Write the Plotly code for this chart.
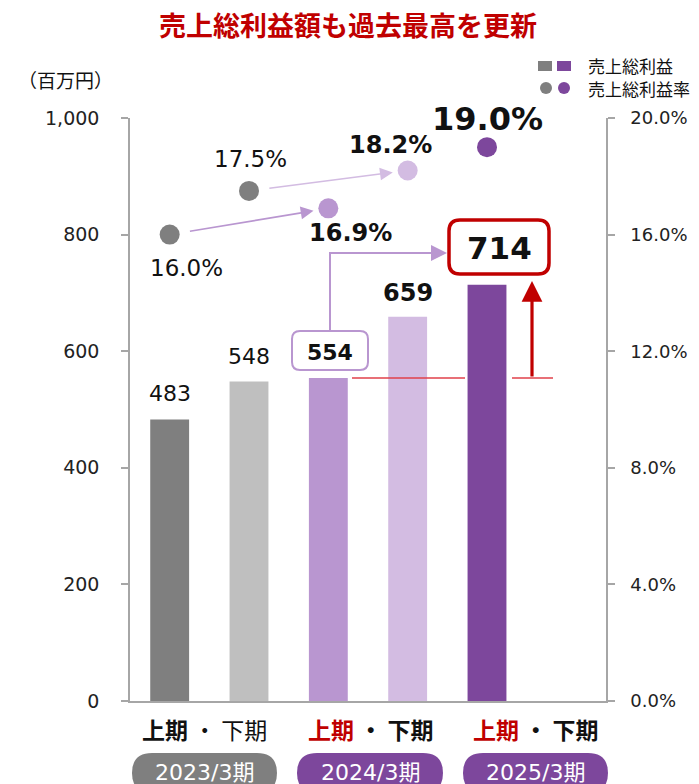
import plotly.graph_objects as go

# ---------------- data ----------------
periods = ["2023/3期 上期", "2023/3期 下期", "2024/3期 上期", "2024/3期 下期", "2025/3期 上期", "2025/3期 下期"]
gross_profit = [483, 548, 554, 659, 714]          # 売上総利益 (百万円)
gross_margin = [0.160, 0.175, 0.169, 0.182, 0.190]  # 売上総利益率
bar_colors = ["#7F7F7F", "#BFBFBF", "#B996D0", "#D3BCE2", "#7D479C"]
marker_colors = ["#7F7F7F", "#7F7F7F", "#B996D0", "#D3BCE2", "#7D479C"]
fiscal_years = ["2023/3期", "2024/3期", "2025/3期"]
left_ticks = [0, 200, 400, 600, 800, 1000]
left_tick_text = ["0", "200", "400", "600", "800", "1,000"]

# ---------------- layout constants ----------------
WIDTH, HEIGHT = 699, 784
L, R, T, B = 130, 606, 118, 701
PW, PH = R - L, B - T
NCAT = len(periods)
YMAX = 1000
NUMFONT = "Verdana, DejaVu Sans, Noto Sans CJK JP"
JPFONT = "Noto Sans CJK JP, DejaVu Sans"
RED = "#C00000"

xpos = list(range(len(gross_profit)))


def xd(px):
    return (px - L) / (PW / NCAT) - 0.5


def yd(py):
    return (B - py) / PH * YMAX


def xp(px):
    return (px - L) / PW


def yp(py):
    return (B - py) / PH


def rrect(x0, y0, x1, y1, r, cx, cy):
    pts = [
        ("M", [(x0 + r, y0)]), ("L", [(x1 - r, y0)]), ("Q", [(x1, y0), (x1, y0 + r)]),
        ("L", [(x1, y1 - r)]), ("Q", [(x1, y1), (x1 - r, y1)]), ("L", [(x0 + r, y1)]),
        ("Q", [(x0, y1), (x0, y1 - r)]), ("L", [(x0, y0 + r)]), ("Q", [(x0, y0), (x0 + r, y0)]),
    ]
    s = ""
    for cmd, ps in pts:
        s += cmd + " " + " ".join(f"{cx(a):.5f},{cy(b):.5f}" for a, b in ps) + " "
    return s + "Z"


def paper_text(px, py, text, size, color="#111", family=JPFONT, xanchor="center"):
    return dict(x=xp(px), y=yp(py), xref="paper", yref="paper", text=text, showarrow=False,
                xanchor=xanchor, yanchor="middle", font=dict(family=family, size=size, color=color))


fig = go.Figure()

fig.add_trace(go.Bar(
    x=xpos, y=gross_profit, marker=dict(color=bar_colors, line=dict(width=0)),
    width=0.49, yaxis="y", hoverinfo="skip", showlegend=False,
))
fig.add_trace(go.Scatter(
    x=xpos, y=gross_margin, mode="markers", yaxis="y2",
    marker=dict(size=20, color=marker_colors, line=dict(width=0)),
    hoverinfo="skip", showlegend=False,
))

shapes = []
annotations = []

# value labels for bars
bar_label_style = [
    dict(size=22, bold=False, dy=11), dict(size=22, bold=False, dy=11), None,
    dict(size=24, bold=True, dy=8), None,
]
for i, v in enumerate(gross_profit):
    st = bar_label_style[i]
    if st is None:
        continue
    txt = f"<b>{v}</b>" if st["bold"] else str(v)
    annotations.append(dict(x=xpos[i], y=v, xref="x", yref="y", text=txt, showarrow=False,
                            xanchor="center", yanchor="bottom", yshift=st["dy"],
                            font=dict(family=NUMFONT, size=st["size"], color="#111")))

# 554 box
shapes.append(dict(type="path", xref="x", yref="y", layer="above",
                   path=rrect(292, 331, 368, 370, 8, xd, yd),
                   line=dict(color="#B996D0", width=2), fillcolor="white"))
annotations.append(dict(x=xpos[2], y=gross_profit[2], xref="x", yref="y", text=f"<b>{gross_profit[2]}</b>",
                        showarrow=False, xanchor="center", yanchor="middle", yshift=26, xshift=2,
                        font=dict(family=NUMFONT, size=22, color="#111")))
# connector 554 -> 714
shapes.append(dict(type="path", xref="x", yref="y", layer="above",
                   path=f"M {xd(330)},{yd(331)} L {xd(330)},{yd(253)} L {xd(430)},{yd(253)}",
                   line=dict(color="#B996D0", width=2)))
annotations.append(dict(x=xd(447), y=yd(253), ax=xd(420), ay=yd(253), xref="x", yref="y", axref="x", ayref="y",
                        text="", showarrow=True, arrowhead=2, arrowsize=1.6, arrowwidth=2, arrowcolor="#B996D0"))

# 714 red box
shapes.append(dict(type="path", xref="x", yref="y", layer="above",
                   path=rrect(449, 220, 549, 274, 11, xd, yd),
                   line=dict(color=RED, width=3.5), fillcolor="white"))
annotations.append(dict(x=xd(499), y=yd(248), xref="x", yref="y", text=f"<b>{gross_profit[4]}</b>",
                        showarrow=False, xanchor="center", yanchor="middle",
                        font=dict(family=NUMFONT, size=31, color="#111")))

# red reference line at 上期 2024 level
ref = gross_profit[2]
shapes.append(dict(type="line", xref="x", yref="y", x0=xd(352), x1=xd(465), y0=ref, y1=ref,
                   layer="above", line=dict(color="#E0404A", width=1.5)))
shapes.append(dict(type="line", xref="x", yref="y", x0=xd(512), x1=xd(553), y0=ref, y1=ref,
                   layer="above", line=dict(color="#E0404A", width=1.5)))
annotations.append(dict(x=xd(532), y=yd(281), ax=xd(532), ay=ref, xref="x", yref="y", axref="x", ayref="y",
                        text="", showarrow=True, arrowhead=2, arrowsize=1.3, arrowwidth=3.2, arrowcolor=RED))

# margin arrows
annotations.append(dict(x=xpos[2], y=gross_margin[2], ax=xpos[0], ay=gross_margin[0], xref="x", yref="y2",
                        axref="x", ayref="y2", text="", showarrow=True, arrowhead=2, arrowsize=1.6, arrowwidth=1.6,
                        arrowcolor="#B996D0", standoff=15, startstandoff=19))
annotations.append(dict(x=xpos[3], y=gross_margin[3], ax=xpos[1], ay=gross_margin[1], xref="x", yref="y2",
                        axref="x", ayref="y2", text="", showarrow=True, arrowhead=2, arrowsize=1.6, arrowwidth=1.6,
                        arrowcolor="#D3BCE2", standoff=15, startstandoff=19))

# margin labels
m_style = [
    dict(dx=17, dy=-33, size=23, bold=False),
    dict(dx=1, dy=32, size=23, bold=False),
    dict(dx=22, dy=-25, size=24, bold=True),
    dict(dx=-17, dy=25, size=24, bold=True),
    dict(dx=0, dy=28, size=32, bold=True),
]
for i, m in enumerate(gross_margin):
    st = m_style[i]
    t = f"{m*100:.1f}%"
    if st["bold"]:
        t = f"<b>{t}</b>"
    annotations.append(dict(x=xpos[i], y=m, xref="x", yref="y2", text=t, showarrow=False,
                            xanchor="center", yanchor="middle", xshift=st["dx"], yshift=st["dy"],
                            font=dict(family=NUMFONT, size=st["size"], color="#111")))

# title
annotations.append(paper_text(348, 24, "<b>売上総利益額も過去最高を更新</b>", 27, color=RED))
# unit
annotations.append(paper_text(65, 80, "（百万円）", 19))

# legend
shapes.append(dict(type="rect", xref="paper", yref="paper", x0=xp(538), x1=xp(552), y0=yp(61), y1=yp(71),
                   fillcolor=bar_colors[0], line=dict(width=0)))
shapes.append(dict(type="rect", xref="paper", yref="paper", x0=xp(557), x1=xp(571), y0=yp(61), y1=yp(71),
                   fillcolor=bar_colors[4], line=dict(width=0)))
shapes.append(dict(type="circle", xref="paper", yref="paper", x0=xp(540), x1=xp(552), y0=yp(82), y1=yp(94),
                   fillcolor=bar_colors[0], line=dict(width=0)))
shapes.append(dict(type="circle", xref="paper", yref="paper", x0=xp(558), x1=xp(570), y0=yp(82), y1=yp(94),
                   fillcolor=bar_colors[4], line=dict(width=0)))
annotations.append(paper_text(586, 65, "売上総利益", 17, xanchor="left"))
annotations.append(paper_text(586, 88, "売上総利益率", 17, xanchor="left"))

# half labels
half_texts = [
    "<b>上期</b> ・ 下期",
    f"<b><span style='color:{RED}'>上期</span> ・ 下期</b>",
    f"<b><span style='color:{RED}'>上期</span> ・ 下期</b>",
]
half_cx = [204, 370, 535]
for cx, t in zip(half_cx, half_texts):
    annotations.append(paper_text(cx, 729, t, 23))

# fiscal-year pills
pill_x = [(132, 277), (297, 443), (463, 608)]
pill_colors = ["#7F7F7F", "#7D479C", "#7D479C"]
for (x0, x1), c, fy in zip(pill_x, pill_colors, fiscal_years):
    shapes.append(dict(type="path", xref="paper", yref="paper",
                       path=rrect(x0, 753, x1, 793, 20, xp, yp), fillcolor=c, line=dict(width=0)))
    annotations.append(paper_text((x0 + x1) / 2, 772, fy, 22, color="white", family=NUMFONT))

fig.update_layout(
    width=WIDTH, height=HEIGHT,
    margin=dict(l=L, r=WIDTH - R, t=T, b=HEIGHT - B, pad=0, autoexpand=False),
    plot_bgcolor="white", paper_bgcolor="white",
    showlegend=False,
    shapes=shapes, annotations=annotations,
    xaxis=dict(range=[-0.5, NCAT - 0.5], showticklabels=False, ticks="", showgrid=False, zeroline=False,
               showline=True, linecolor="#A6A6A6", linewidth=1.5, fixedrange=True, automargin=False),
    yaxis=dict(range=[0, YMAX], tickvals=left_ticks, ticktext=left_tick_text, showgrid=False, zeroline=False,
               showline=True, linecolor="#A6A6A6", linewidth=1.5, ticks="outside", ticklen=7,
               tickcolor="#A6A6A6", tickwidth=1.5, ticklabelstandoff=18, automargin=False,
               tickfont=dict(family=NUMFONT, size=19, color="#222")),
    yaxis2=dict(range=[0, 0.2], dtick=0.04, tickformat=".1%", overlaying="y", side="right", showgrid=False,
                zeroline=False, showline=True, linecolor="#A6A6A6", linewidth=1.5, ticks="outside", ticklen=7,
                tickcolor="#A6A6A6", tickwidth=1.5, ticklabelstandoff=12, automargin=False,
                tickfont=dict(family=NUMFONT, size=18, color="#222")),
)

fig.write_html("out.html", config={"displayModeBar": False},
               post_script="document.body.style.margin='0';document.body.style.overflow='hidden';")
